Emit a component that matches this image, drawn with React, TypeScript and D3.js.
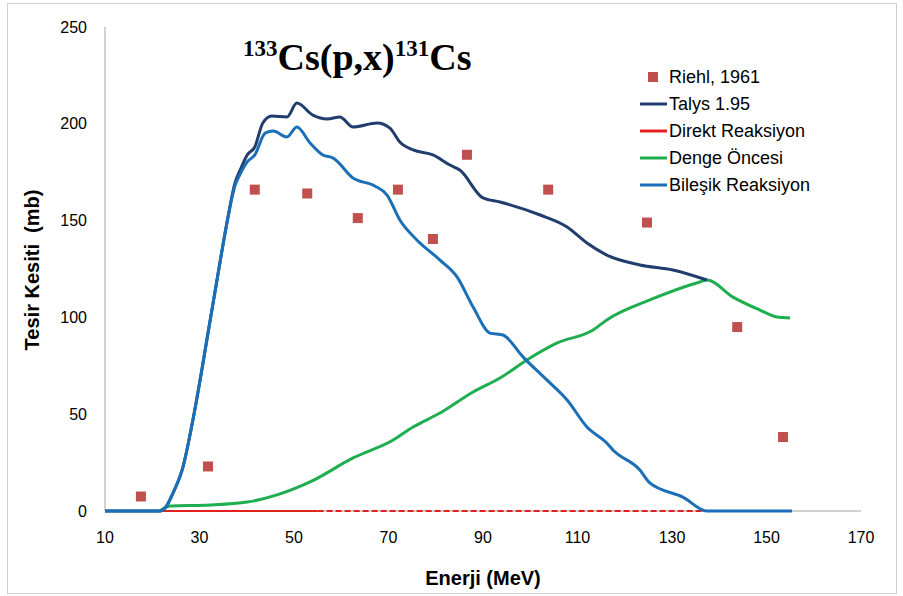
import { useEffect, useRef } from "react";
import * as d3 from "d3";

// Riehl, 1961 deney verisi
const riehlE = [17.6, 31.8, 41.7, 52.8, 63.5, 72.0, 79.4, 86.6, 103.8, 124.7, 143.8, 153.5];
const riehlV = [7.5, 23, 166, 164, 151.3, 166, 140.5, 184, 166, 149, 95, 38.2];

// Talys 1.95 toplam
const talysE = [10, 20.6, 21.6, 23.0, 24.4, 26.5, 28.6, 30.5, 31.8, 33.7, 35.8, 37.5, 38.6, 40.1, 41.7, 43.4, 45.3, 48.5, 50.6, 54.0, 57.0, 59.7, 62.5, 67.6, 70.3, 72.4, 75.2, 79.4, 83.0, 85.1, 90.0, 93.6, 102.1, 107.8, 112.0, 116.2, 123.2, 130.2, 137.4];
const talysV = [0, 0, 0, 2.5, 9.3, 22.7, 47, 73, 92, 119.3, 148.8, 169.4, 176.1, 183.9, 188, 200.4, 204, 203.5, 210.7, 204.5, 202.5, 203.5, 198.3, 200.4, 197.8, 190.6, 186.5, 183.9, 178.7, 176.1, 161.7, 159.6, 152.9, 146.7, 138.4, 132.2, 127.1, 124.5, 119.3];

// Direkt reaksiyon (sifir)
const direktE = [21.6, 55, 137.4];
const direktV = [0, 0, 0];

// Denge oncesi
const dengeE = [21.6, 23.8, 32.2, 40.1, 46.4, 53.4, 62.5, 71.0, 75.2, 80.9, 87.9, 93.6, 99.3, 105.7, 113.3, 116.2, 125.3, 135.9, 137.4, 142.9, 148.6, 152.2, 155.0];
const dengeV = [0, 2.6, 3.1, 4.6, 8.3, 15, 27.4, 36.7, 43.4, 50.6, 61.5, 68.7, 78, 86.8, 93.5, 98.7, 109, 118.3, 119.3, 110.5, 103.8, 100.2, 99.7];

// Bilesik reaksiyon
const bilesikE = [10, 20.6, 21.6, 23.0, 24.4, 26.5, 28.6, 30.5, 31.8, 33.7, 35.8, 37.5, 38.6, 40.1, 41.7, 43.9, 45.6, 48.5, 50.6, 53.4, 56.1, 58.3, 62.5, 67.1, 69.7, 72.4, 76.0, 80.9, 84.5, 87.9, 91.5, 94.2, 98.5, 103.5, 107.8, 112.0, 116.2, 117.5, 123.2, 125.3, 132.3, 137.4, 155.4];
const bilesikV = [0, 0, 0, 2.5, 9.3, 22.7, 47, 73, 92, 119.3, 148.8, 168, 174, 180.3, 183.9, 195.2, 196.3, 193.2, 198.3, 190.1, 183.9, 182.3, 172, 167.9, 163.2, 150.3, 140, 129.6, 120.9, 105.4, 91.9, 90.9, 79.5, 67.7, 57.3, 43.4, 35.1, 31.5, 21.2, 14.5, 7.2, 0, 0];

const xTicks = [10, 30, 50, 70, 90, 110, 130, 150, 170];
const yTicks = [0, 50, 100, 150, 200, 250];

const zip = (xs: number[], ys: number[]) => xs.map((x, i) => [x, ys[i]] as [number, number]);

export default function App() {
  const svgRef = useRef<SVGSVGElement>(null);
  const width = 903;
  const height = 596;

  useEffect(() => {
    const svg = d3.select(svgRef.current);
    svg.selectAll("*").remove();

    const x = d3.scaleLinear().domain([10, 170]).range([105, 861]);
    const y = d3.scaleLinear().domain([0, 250]).range([511, 27]);
    const sans = "'Liberation Sans', Arial, sans-serif";

    // cerceve
    svg.append("rect")
      .attr("x", 7.5).attr("y", 3.5)
      .attr("width", 889).attr("height", 590)
      .attr("fill", "white").attr("stroke", "#d0d0d0");

    // eksenler
    svg.append("line")
      .attr("x1", x(10)).attr("x2", x(10))
      .attr("y1", y(250)).attr("y2", y(0))
      .attr("stroke", "#a6a6a6").attr("stroke-width", 1);
    svg.append("line")
      .attr("x1", x(10)).attr("x2", x(170))
      .attr("y1", y(0)).attr("y2", y(0))
      .attr("stroke", "#a6a6a6").attr("stroke-width", 1);

    svg.append("g").selectAll("text").data(yTicks).enter().append("text")
      .attr("x", 87).attr("y", (d) => y(d))
      .attr("dy", "0.35em").attr("text-anchor", "end")
      .style("font-family", sans).style("font-size", "16px").attr("fill", "#000")
      .text((d) => d);

    svg.append("g").selectAll("text").data(xTicks).enter().append("text")
      .attr("x", (d) => x(d)).attr("y", 537)
      .attr("dy", "0.35em").attr("text-anchor", "middle")
      .style("font-family", sans).style("font-size", "16px").attr("fill", "#000")
      .text((d) => d);

    // eksen basliklari
    svg.append("text")
      .attr("transform", `translate(39,${270}) rotate(-90)`)
      .attr("text-anchor", "middle")
      .style("font-family", sans).style("font-size", "20px").style("font-weight", "bold")
      .style("white-space", "pre")
      .text("Tesir Kesiti  (mb)");
    svg.append("text")
      .attr("x", 483).attr("y", 585)
      .attr("text-anchor", "middle")
      .style("font-family", sans).style("font-size", "20px").style("font-weight", "bold")
      .text("Enerji (MeV)");

    // baslik
    const title = svg.append("text")
      .attr("x", 243).attr("y", 70)
      .style("font-family", "'Liberation Serif', 'Times New Roman', serif")
      .style("font-weight", "bold").attr("fill", "#000");
    title.append("tspan").style("font-size", "23px").attr("dy", -14).text("133");
    title.append("tspan").style("font-size", "38px").attr("dy", 14).text("Cs(p,x)");
    title.append("tspan").style("font-size", "23px").attr("dy", -14).text("131");
    title.append("tspan").style("font-size", "38px").attr("dy", 14).text("Cs");

    const line = d3.line<[number, number]>()
      .x((d) => x(d[0]))
      .y((d) => y(d[1]))
      .curve(d3.curveMonotoneX);

    const direkt = zip(direktE, direktV);
    svg.append("path").datum(direkt.slice(0, 2)).attr("d", line)
      .attr("fill", "none").attr("stroke", "#e3211c").attr("stroke-width", 2);
    svg.append("path").datum(direkt.slice(1)).attr("d", line)
      .attr("fill", "none").attr("stroke", "#e3211c").attr("stroke-width", 2)
      .attr("stroke-dasharray", "6,3");

    svg.append("path").datum(zip(dengeE, dengeV)).attr("d", line)
      .attr("fill", "none").attr("stroke", "#1fae4f").attr("stroke-width", 3)
      .attr("stroke-linejoin", "round");

    svg.append("path").datum(zip(talysE, talysV)).attr("d", line)
      .attr("fill", "none").attr("stroke", "#213d6e").attr("stroke-width", 3)
      .attr("stroke-linejoin", "round");

    svg.append("path").datum(zip(bilesikE, bilesikV)).attr("d", line)
      .attr("fill", "none").attr("stroke", "#1a6fb7").attr("stroke-width", 3)
      .attr("stroke-linejoin", "round");

    // deney noktalari
    svg.append("g").selectAll("rect").data(zip(riehlE, riehlV)).enter().append("rect")
      .attr("x", (d) => x(d[0]) - 5).attr("y", (d) => y(d[1]) - 5)
      .attr("width", 10).attr("height", 10)
      .attr("fill", "#c0504d");

    // lejant
    const legendItems = [
      { label: "Riehl, 1961", color: "#c0504d", marker: true },
      { label: "Talys 1.95", color: "#213d6e", marker: false },
      { label: "Direkt Reaksiyon", color: "#e3211c", marker: false },
      { label: "Denge Öncesi", color: "#1fae4f", marker: false },
      { label: "Bileşik Reaksiyon", color: "#1a6fb7", marker: false },
    ];
    const legend = svg.append("g").attr("transform", "translate(640,77)");
    legendItems.forEach((item, i) => {
      const gy = i * 27;
      if (item.marker) {
        legend.append("rect")
          .attr("x", 8).attr("y", gy - 5).attr("width", 10).attr("height", 10)
          .attr("fill", item.color);
      } else {
        legend.append("line")
          .attr("x1", 0).attr("x2", 27).attr("y1", gy).attr("y2", gy)
          .attr("stroke", item.color).attr("stroke-width", 3);
      }
      legend.append("text")
        .attr("x", 29).attr("y", gy).attr("dy", "0.35em")
        .style("font-family", sans).style("font-size", "18px").attr("fill", "#000")
        .text(item.label);
    });
  }, []);

  return (
    <svg
      ref={svgRef}
      width={width}
      height={height}
      style={{ position: "absolute", left: 0, top: 0, background: "white" }}
    ></svg>
  );
}
